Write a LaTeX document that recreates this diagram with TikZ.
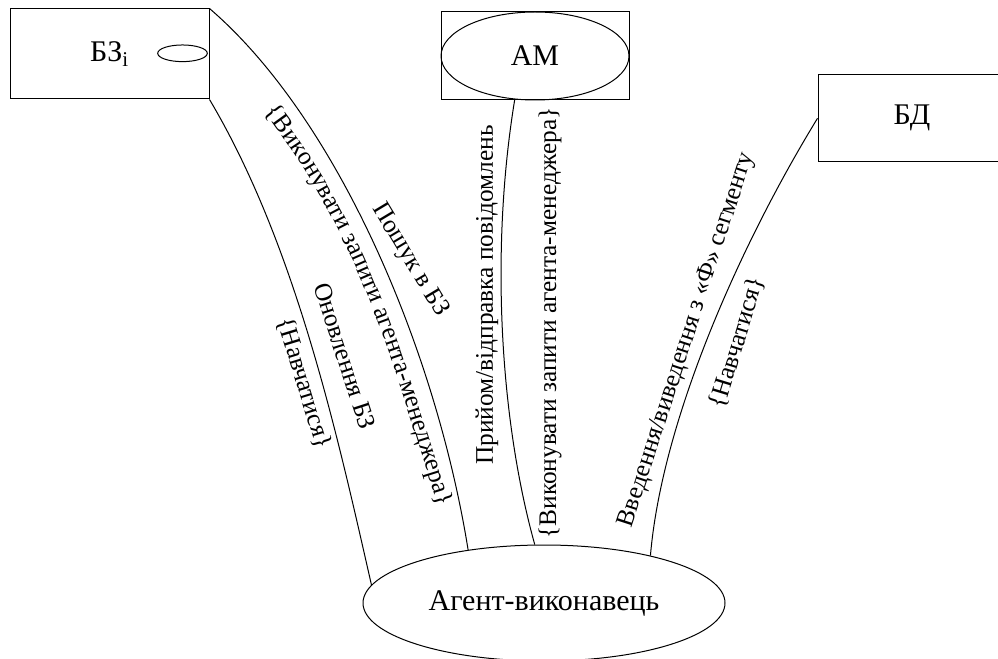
\documentclass[tikz,border=0pt]{standalone}
\usepackage{fontspec}
\setmainfont{Liberation Serif}
\usetikzlibrary{shapes.geometric,decorations.text}

\newcommand\biglbl{\fontsize{22.5}{24}\selectfont}
\newcommand\smlbl{\fontsize{19}{21}\selectfont}

\begin{document}
\begin{tikzpicture}[x=0.75pt,y=-0.75pt,
  line width=0.75pt,
  box/.style={draw, rectangle, inner sep=0pt, font=\biglbl},
  oval/.style={draw, ellipse, inner sep=0pt},
  lbl/.style={inner sep=0pt, font=\smlbl},
  link/.style={draw}]
\useasboundingbox (0,0) rectangle (998,659);

% knowledge base, manager agent, database
\node[box, minimum width=149.25pt, minimum height=67.5pt] (bz) at (109.5,54) {БЗ\textsubscript{i}};
\node[oval, minimum width=37.2pt, minimum height=12.5pt] (bzoval) at (182.5,53.3) {};
\node[box, minimum width=141pt, minimum height=66pt] (am) at (535,56) {};
\node[oval, minimum width=141pt, minimum height=66pt, font=\biglbl] (amoval) at (am.center) {АМ};
\node[box, minimum width=141pt, minimum height=65pt] (bd) at (912,118.3) {БД};

% executor agent
\node[oval, minimum width=271.5pt, minimum height=87pt, font=\biglbl] (agent) at (544,603) {Агент-виконавець};

% connectors
\draw[link] (bz.south east) .. controls (296,245) and (338,438) .. (agent.174);
\draw[link] (bz.north east) .. controls (338,119) and (436,350) .. (agent.145);
\draw[link] (amoval.245) .. controls (490,250) and (500,420) .. (agent.99);
\draw[link] (bd.west) .. controls (740,245) and (662,420) .. (agent.24);

% labels on the knowledge-base links
\path[decorate, decoration={text along path, text align=center,
  text={|\smlbl|{\{}Виконувати запити агента-менеджера{\}}}}]
  (255,100) .. controls (363.5,234) and (396.7,378.5) .. (443,521);
\node[lbl, rotate=-59] (search) at (410,260) {Пошук в БЗ};
\node[lbl, rotate=-72] (update) at (345,356) {Оновлення БЗ};
\node[lbl, rotate=-73] (learnl) at (304,383) {\{Навчатися\}};

% labels on the manager link
\node[lbl, rotate=90] (msg) at (487,295) {Прийом/відправка повідомлень};
\node[lbl, rotate=90] (execm) at (550,323) {\{Виконувати запити агента-менеджера\}};

% labels on the database link
\node[lbl, rotate=72] (io) at (687,340) {Введення/виведення з «Ф» сегменту};
\node[lbl, rotate=73] (learnr) at (737,343) {\{Навчатися\}};
\end{tikzpicture}
\end{document}
